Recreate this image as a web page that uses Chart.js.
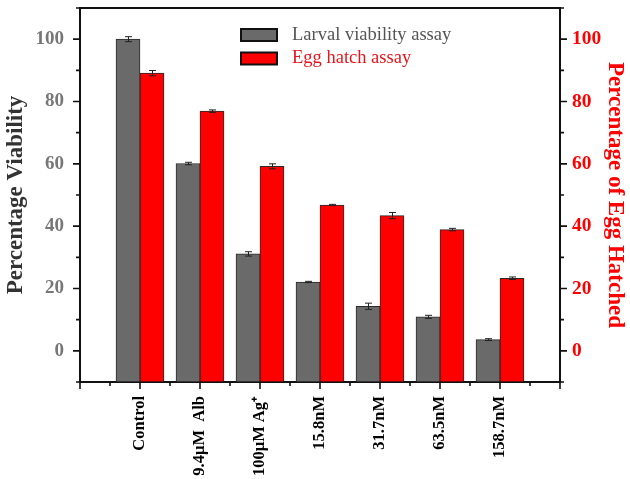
<!DOCTYPE html>
<html><head><meta charset="utf-8">
<script src="https://cdn.jsdelivr.net/npm/chart.js@4.4.1/dist/chart.umd.min.js"></script>
<style>html,body{margin:0;padding:0;background:#fff}canvas{display:block}</style>
</head><body>
<canvas id="c" width="630" height="479"></canvas>
<script>
const categories = ['Control', '9.4\u00b5M  Alb', '100\u00b5M Ag\u207a', '15.8nM', '31.7nM', '63.5nM', '158.7nM'];
const larvalViability = [100, 60.1, 31.1, 22.1, 14.3, 10.9, 3.6];
const larvalError = [0.8, 0.4, 0.7, 0.2, 1.0, 0.5, 0.3];
const eggHatch = [89.1, 76.9, 59.2, 46.8, 43.4, 38.9, 23.3];
const eggError = [0.85, 0.4, 0.8, 0.2, 1.0, 0.4, 0.4];
const yTickLabels = [0, 20, 40, 60, 80, 100];
const seriesNames = ['Larval viability assay', 'Egg hatch assay'];

const SERIF = '"Liberation Serif", "Times New Roman", serif';
const GRAY = '#6a6a6a';
const RED = '#ff0000';

const toPoints = arr => arr.map((v, i) => ({x: i + 1, y: v}));

const errorBars = {
  id: 'errorBars',
  afterDatasetsDraw(chart) {
    const ctx = chart.ctx;
    const errs = [larvalError, eggError];
    ctx.save();
    ctx.strokeStyle = '#222';
    ctx.lineWidth = 1;
    chart.data.datasets.forEach((ds, di) => {
      const meta = chart.getDatasetMeta(di);
      const ys = chart.scales[ds.yAxisID];
      meta.data.forEach((bar, i) => {
        const v = ds.data[i].y, e = errs[di][i];
        const x = Math.round(bar.x) + 0.5;
        const y1 = ys.getPixelForValue(v + e), y2 = ys.getPixelForValue(v - e);
        ctx.beginPath();
        ctx.moveTo(x, y1); ctx.lineTo(x, y2);
        ctx.moveTo(x - 3.5, y1); ctx.lineTo(x + 3.5, y1);
        ctx.moveTo(x - 3.5, y2); ctx.lineTo(x + 3.5, y2);
        ctx.stroke();
      });
    });
    ctx.restore();
  }
};

const frameTicks = {
  id: 'frameTicks',
  afterDraw(chart) {
    const ctx = chart.ctx;
    const a = chart.chartArea;
    ctx.save();
    ctx.strokeStyle = '#111';
    ctx.lineWidth = 2;
    ctx.beginPath();
    ctx.moveTo(a.left - 1, a.top); ctx.lineTo(a.right + 1, a.top);
    ctx.stroke();
    ctx.lineWidth = 1.6;
    const sy = chart.scales.y, sy2 = chart.scales.y2, sx = chart.scales.x;
    ctx.beginPath();
    sy.ticks.forEach((t, i) => {
      const p = sy.getPixelForTick(i);
      const len = (t.value % 20 === 0) ? 7 : 4;
      ctx.moveTo(a.left - len, p); ctx.lineTo(a.left, p);
    });
    sy2.ticks.forEach((t, i) => {
      const p = sy2.getPixelForTick(i);
      const len = (t.value % 20 === 0) ? 7 : 4;
      ctx.moveTo(a.right, p); ctx.lineTo(a.right + len, p);
    });
    sx.ticks.forEach((t, i) => {
      const p = sx.getPixelForTick(i);
      const len = Number.isInteger(t.value) ? 7 : 4;
      ctx.moveTo(p, a.bottom); ctx.lineTo(p, a.bottom + len);
    });
    ctx.stroke();
    ctx.restore();
  }
};

const boxLegend = {
  id: 'boxLegend',
  afterDraw(chart, args, opts) {
    const ctx = chart.ctx;
    ctx.save();
    chart.data.datasets.forEach((ds, i) => {
      const y = opts.y + i * opts.rowGap;
      ctx.fillStyle = ds.backgroundColor;
      ctx.fillRect(opts.x, y, opts.boxW, opts.boxH);
      ctx.strokeStyle = '#111';
      ctx.lineWidth = 2;
      ctx.strokeRect(opts.x, y, opts.boxW, opts.boxH);
      ctx.fillStyle = opts.colors[i];
      ctx.font = opts.font;
      ctx.textBaseline = 'alphabetic';
      ctx.textAlign = 'left';
      ctx.fillText(ds.label, opts.textX, y + opts.baseline);
    });
    ctx.restore();
  }
};

const noVPad = s => { s.paddingTop = 0; s.paddingBottom = 0; };

new Chart(document.getElementById('c'), {
  type: 'bar',
  data: {
    datasets: [
      {label: seriesNames[0], data: toPoints(larvalViability), yAxisID: 'y', backgroundColor: GRAY,
       borderColor: '#2a2a2a', borderWidth: 1, base: -10, barThickness: 24},
      {label: seriesNames[1], data: toPoints(eggHatch), yAxisID: 'y2', backgroundColor: RED,
       borderColor: '#2a2a2a', borderWidth: 1, base: -10, barThickness: 24}
    ]
  },
  options: {
    responsive: false,
    animation: false,
    devicePixelRatio: 1,
    layout: {padding: {top: 8, left: 0, right: 0, bottom: 0}},
    plugins: {
      legend: {display: false},
      tooltip: {enabled: false},
      boxLegend: {x: 241, y: 29, boxW: 36, boxH: 12, rowGap: 23.5, textX: 292, baseline: 10.5,
        font: '18.5px ' + SERIF, colors: ['#555555', '#e8141c']}
    },
    scales: {
      x: {
        type: 'linear', min: 0, max: 8, offset: false,
        grid: {display: true, drawOnChartArea: false, drawTicks: false, offset: false},
        border: {display: true, color: '#111', width: 2},
        ticks: {
          stepSize: 0.5, autoSkip: false, maxRotation: 90, minRotation: 90, padding: 14,
          color: '#000', font: {family: SERIF, size: 16.5, weight: 'bold'},
          callback: v => (Number.isInteger(v) && v >= 1 && v <= categories.length) ? categories[v - 1] : ''
        },
        afterFit: s => { s.height = 97; s.paddingLeft = 0; s.paddingRight = 0; }
      },
      y: {
        position: 'left', min: -10, max: 110,
        grid: {display: true, drawOnChartArea: false, drawTicks: false},
        border: {display: true, color: '#111', width: 2},
        ticks: {stepSize: 10, padding: 16, color: '#777', font: {family: SERIF, size: 19, weight: 'bold'},
          callback: v => yTickLabels.includes(v) ? String(v) : ''},
        title: {display: true, text: 'Percentage Viability', color: '#333',
          font: {family: SERIF, size: 23, weight: 'bold'}, padding: {top: 2, bottom: 0}},
        afterFit: s => { s.width = 80; noVPad(s); }
      },
      y2: {
        position: 'right', min: -10, max: 110,
        grid: {display: true, drawOnChartArea: false, drawTicks: false},
        border: {display: true, color: '#111', width: 2},
        ticks: {stepSize: 10, padding: 12, color: RED, font: {family: SERIF, size: 19.5, weight: 'bold'},
          callback: v => yTickLabels.includes(v) ? String(v) : ''},
        title: {display: true, text: 'Percentage of Egg Hatched', color: RED,
          font: {family: SERIF, size: 23, weight: 'bold'}, padding: {top: 1, bottom: 0}},
        afterFit: s => { s.width = 70; noVPad(s); }
      }
    }
  },
  plugins: [errorBars, frameTicks, boxLegend]
});
</script>
</body></html>
